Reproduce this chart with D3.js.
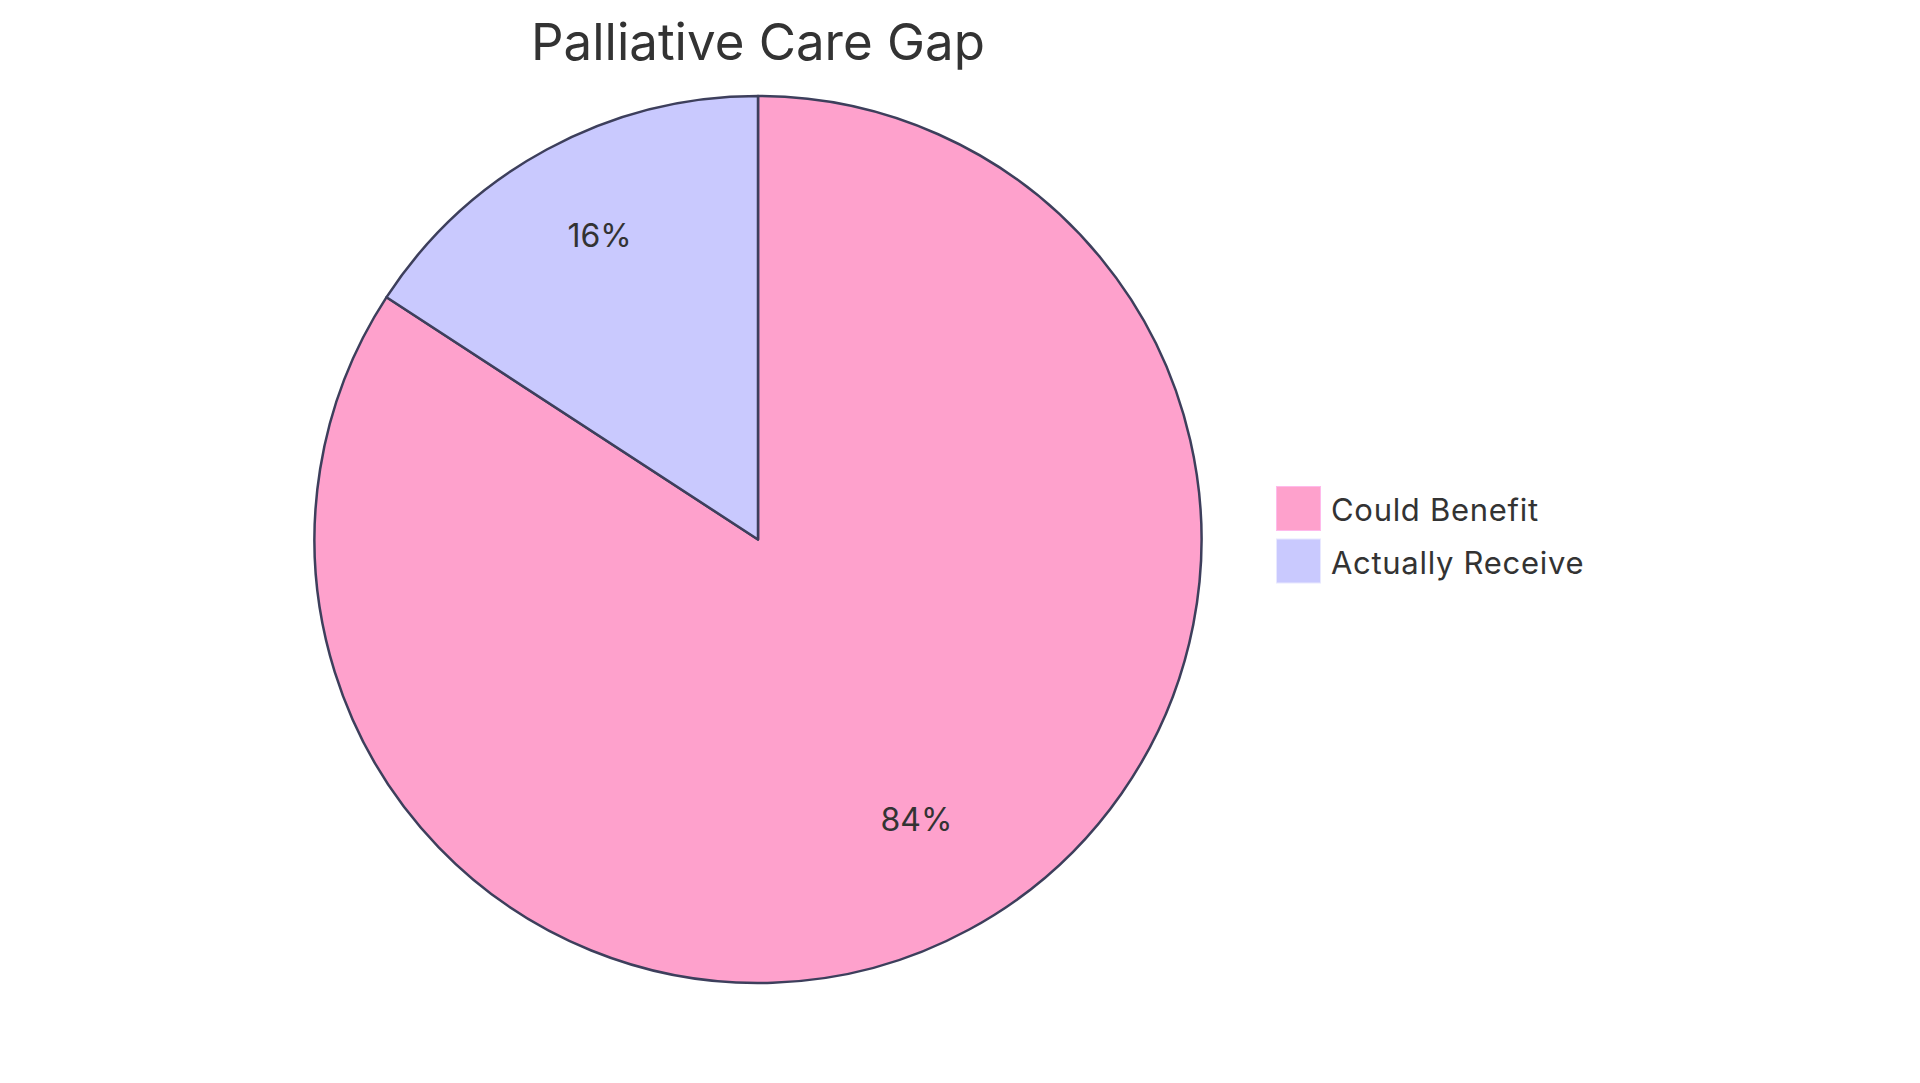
<!DOCTYPE html>
<html>
<head>
<meta charset="utf-8">
<script src="https://cdn.jsdelivr.net/npm/d3@7"></script>
<style>
  html, body { margin: 0; padding: 0; background: #fff; }
  svg { display: block; font-family: Inter, "Open Sans", sans-serif; }
</style>
</head>
<body>
<div class="vis-pie"></div>
<script>
const chartTitle = "Palliative Care Gap";
const categories = ["Could Benefit", "Actually Receive"];
const values = [84.2, 15.8];
const colors = ["#FEA1CC", "#C9C9FE"];

const width = 1920;
const height = 1083;
const cx = 758, cy = 539.5, radius = 443.5;

const svg = d3.select('.vis-pie').append('svg')
    .attr('width', width)
    .attr('height', height);

// title
svg.append("text")
    .attr("x", cx)
    .attr("y", 60)
    .attr("text-anchor", "middle")
    .attr("font-size", 51)
    .attr("fill", "#333333")
    .text(chartTitle);

const data = categories.map((c, i) => ({ name: c, value: values[i] }));
const total = d3.sum(values);

const pie = d3.pie().sort(null).value(d => d.value);
const arc = d3.arc().innerRadius(0).outerRadius(radius);
const labelArc = d3.arc().innerRadius(radius * 0.75).outerRadius(radius * 0.75);

const color = d3.scaleOrdinal().domain(categories).range(colors);

const g = svg.append("g")
    .attr("transform", "translate(" + cx + "," + cy + ")");

const arcs = pie(data);

g.selectAll(".slice")
    .data(arcs)
    .enter().append("path")
    .attr("class", "slice")
    .attr("d", arc)
    .attr("fill", d => color(d.data.name))
    .attr("stroke", "#3d3f5c")
    .attr("stroke-width", 2.5)
    .attr("stroke-linejoin", "round");

g.selectAll(".slice-label")
    .data(arcs)
    .enter().append("text")
    .attr("class", "slice-label")
    .attr("transform", d => {
        // baseline sits on the centroid, like mermaid
        const c = labelArc.centroid(d);
        return "translate(" + c[0] + "," + (c[1] - 0.5) + ")";
    })
    .attr("text-anchor", "middle")
    .attr("font-size", 32)
    .attr("fill", "#333333")
    .text(d => ((d.data.value / total) * 100).toFixed(0) + "%");

// legend
const legend = svg.append("g")
    .attr("transform", "translate(1276,486)");

const item = legend.selectAll(".legend")
    .data(categories)
    .enter().append("g")
    .attr("class", "legend")
    .attr("transform", (d, i) => "translate(0," + (i * 52.5) + ")");

item.append("rect")
    .attr("x", 0.5)
    .attr("y", 0.5)
    .attr("width", 44)
    .attr("height", 44)
    .attr("fill", d => color(d))
    .attr("stroke", d => d3.color(color(d)).brighter(0.4))
    .attr("stroke-width", 1);

item.append("text")
    .attr("x", 55)
    .attr("y", 35)
    .attr("font-size", 31)
    .attr("letter-spacing", 0.7)
    .attr("fill", "#333333")
    .text(d => d);
</script>
</body>
</html>
